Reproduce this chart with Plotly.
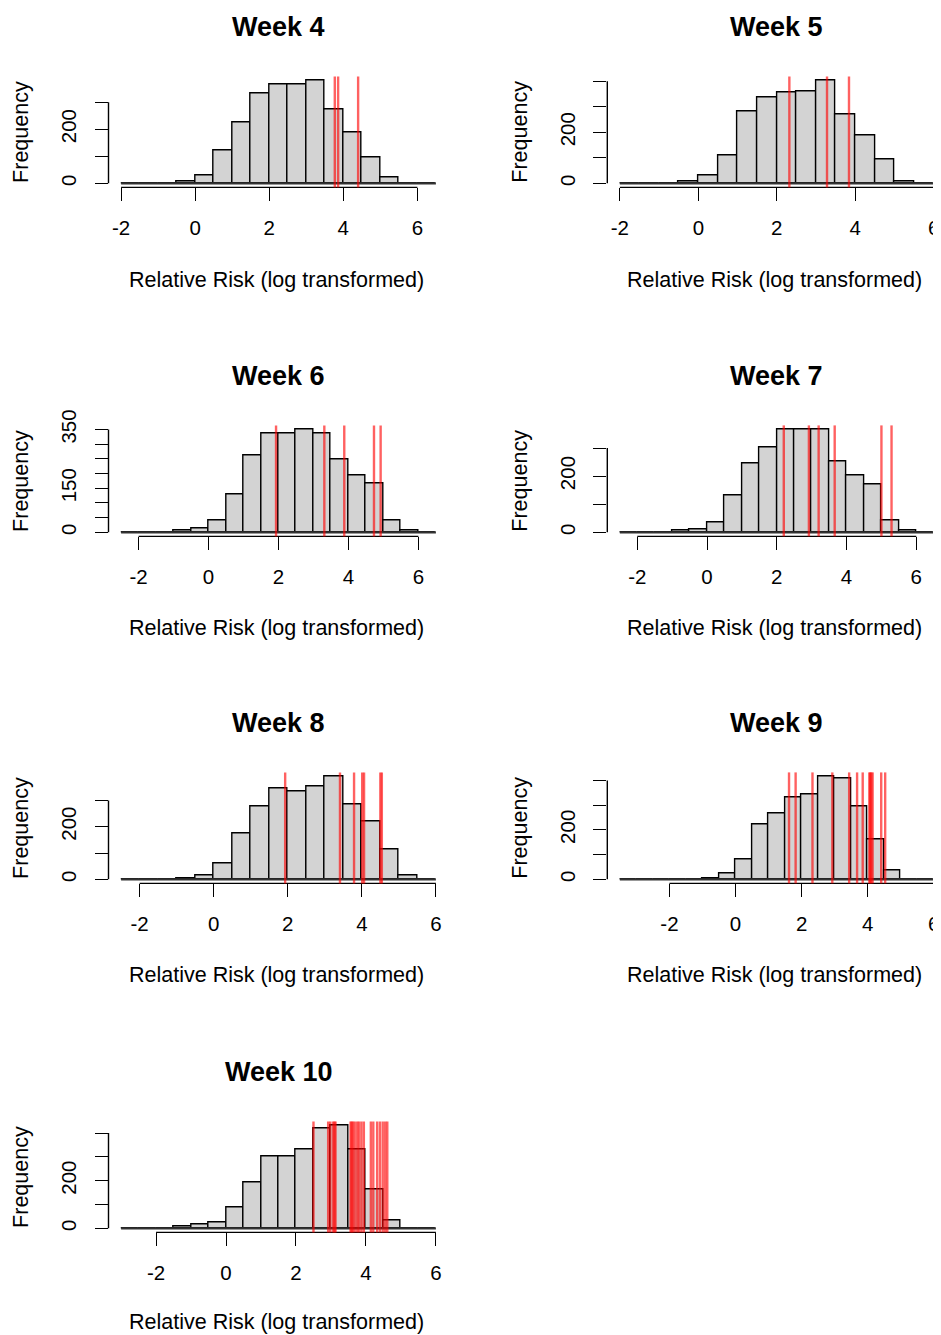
import plotly.graph_objects as go

# ---------------- data ----------------
weeks = ["Week 4", "Week 5", "Week 6", "Week 7", "Week 8", "Week 9", "Week 10"]
bin_width = 0.5
break_start = [-2.0, -2.0, -2.5, -2.5, -2.5, -3.5, -3.0]

counts_w4 = [1, 0, 1, 6, 30, 120, 226, 331, 367, 367, 380, 275, 188, 96, 22, 0, 1]
counts_w5 = [1, 0, 0, 6, 31, 109, 283, 338, 355, 361, 403, 269, 188, 95, 6, 1]
counts_w6 = [1, 0, 0, 5, 14, 41, 129, 262, 336, 336, 350, 336, 249, 193, 166, 41, 6, 1]
counts_w7 = [1, 0, 0, 5, 12, 35, 130, 244, 301, 366, 366, 366, 251, 201, 172, 42, 5, 1]
counts_w8 = [1, 0, 0, 5, 13, 61, 174, 277, 347, 334, 353, 391, 285, 222, 113, 14, 1]
counts_w9 = [1, 0, 0, 0, 0, 5, 24, 81, 221, 268, 333, 342, 416, 407, 297, 162, 34, 0, 1]
counts_w10 = [1, 0, 0, 7, 17, 25, 86, 195, 303, 303, 332, 418, 432, 331, 163, 35, 0, 1]

red_w4 = [3.77, 3.86, 4.40]
red_w5 = [2.32, 3.28, 3.84]
red_w6 = [1.93, 3.31, 3.88, 4.73, 4.92]
red_w7 = [2.20, 2.92, 3.20, 3.66, 5.00, 5.29]
red_w8 = [1.93, 3.41, 3.79, 4.01, 4.06, 4.50, 4.54]
red_w9 = [1.62, 1.82, 2.33, 2.93, 3.44, 3.68, 3.85, 4.05, 4.08, 4.11, 4.15, 4.41, 4.53]
red_w10 = [2.50, 2.92, 2.98, 3.06, 3.10, 3.13, 3.56, 3.59, 3.63, 3.68, 3.75, 3.80,
           3.87, 3.94, 4.14, 4.21, 4.32, 4.40, 4.48, 4.55, 4.61]

x_ticks = [-2, 0, 2, 4, 6]
x_tick_labels = ["-2", "0", "2", "4", "6"]

y_ticks_w4 = [0, 100, 200, 300]
y_labels_w4 = ["0", "", "200", ""]
y_ticks_w5 = [0, 100, 200, 300, 400]
y_labels_w5 = ["0", "", "200", "", ""]
y_ticks_w6 = [0, 50, 100, 150, 200, 250, 300, 350]
y_labels_w6 = ["0", "", "", "150", "", "", "", "350"]
y_ticks_w7 = [0, 100, 200, 300]
y_labels_w7 = ["0", "", "200", ""]
y_ticks_w8 = [0, 100, 200, 300]
y_labels_w8 = ["0", "", "200", ""]
y_ticks_w9 = [0, 100, 200, 300, 400]
y_labels_w9 = ["0", "", "200", "", ""]
y_ticks_w10 = [0, 100, 200, 300, 400]
y_labels_w10 = ["0", "", "200", "", ""]

x_title = "Relative Risk (log transformed)"
y_title = "Frequency"

all_counts = [counts_w4, counts_w5, counts_w6, counts_w7, counts_w8, counts_w9, counts_w10]
all_red = [red_w4, red_w5, red_w6, red_w7, red_w8, red_w9, red_w10]
all_yt = [y_ticks_w4, y_ticks_w5, y_ticks_w6, y_ticks_w7, y_ticks_w8, y_ticks_w9, y_ticks_w10]
all_yl = [y_labels_w4, y_labels_w5, y_labels_w6, y_labels_w7, y_labels_w8, y_labels_w9, y_labels_w10]

# ---------------- layout geometry (pixels) ----------------
W, H = 941, 1335
OFF = 8.0  # page body margin offset
col_px = [(108.5 - OFF, 448.5 - OFF), (607.3 - OFF, 946.3 - OFF)]
row_bottom_px = [187.4 - OFF, 536.4 - OFF, 883.4 - OFF, 1232.4 - OFF]
xlabel_gap = [93.0, 92.0, 92.0, 89.5]
region_h = 111.0

FONT = "Liberation Sans, Arial, sans-serif"
fig = go.Figure()
layout = dict(
    template="none",
    width=W, height=H, autosize=False,
    margin=dict(l=0, r=0, t=0, b=0, pad=0, autoexpand=False),
    paper_bgcolor="white", plot_bgcolor="white",
    showlegend=False,
    font=dict(family=FONT, color="black", size=20),
)
shapes = []
annotations = []

for i, wk in enumerate(weeks):
    n = i + 1
    sfx = "" if n == 1 else str(n)
    r, c = i // 2, i % 2
    left, right = col_px[c]
    bottom = row_bottom_px[r]
    top = bottom - region_h
    counts = all_counts[i]
    lo = break_start[i]
    hi = lo + len(counts) * bin_width
    ext = 0.04 * (hi - lo)
    xr = [lo - ext, hi + ext]
    right_vis = right
    if right > W:
        xr[1] = xr[0] + (xr[1] - xr[0]) * (W - left) / (right - left)
        right_vis = W
    ymax = max(counts)
    yr = [-0.04 * ymax, 1.04 * ymax]

    centers = [lo + bin_width * (k + 0.5) for k in range(len(counts))]

    fig.add_trace(go.Scatter(
        x=[lo, hi], y=[0, 0], mode="lines",
        line=dict(color="#333333", width=2.2),
        xaxis="x" + sfx, yaxis="y" + sfx, hoverinfo="skip"))
    fig.add_trace(go.Bar(
        x=centers, y=counts, width=bin_width,
        marker=dict(color="#D3D3D3", line=dict(color="black", width=1.4)),
        xaxis="x" + sfx, yaxis="y" + sfx))

    layout["xaxis" + sfx] = dict(
        domain=[left / W, right_vis / W], range=xr, anchor="y" + sfx,
        automargin=False,
        showgrid=False, zeroline=False, showline=False,
        tickmode="array", tickvals=x_ticks, ticktext=x_tick_labels,
        ticks="outside", ticklen=13, tickwidth=1.4, tickcolor="black",
        tickfont=dict(size=20.5, family=FONT, color="black"),
        ticklabelstandoff=9,
    )
    layout["yaxis" + sfx] = dict(
        domain=[1 - bottom / H, 1 - top / H], range=yr, anchor="x" + sfx,
        automargin=False,
        showgrid=False, zeroline=False, showline=False,
        tickmode="array", tickvals=all_yt[i], ticktext=all_yl[i],
        ticks="outside", ticklen=13, tickwidth=1.4, tickcolor="black",
        tickangle=-90,
        tickfont=dict(size=20.5, family=FONT, color="black"),
        ticklabelstandoff=10,
    )

    # R-style axis lines spanning first..last tick
    shapes.append(dict(type="line", xref="x" + sfx, yref="y" + sfx + " domain",
                       x0=x_ticks[0], x1=x_ticks[-1], y0=0, y1=0,
                       line=dict(color="black", width=1.4)))
    shapes.append(dict(type="line", xref="x" + sfx + " domain", yref="y" + sfx,
                       x0=0, x1=0, y0=all_yt[i][0], y1=all_yt[i][-1],
                       line=dict(color="black", width=1.4)))
    # red vertical lines
    for v in all_red[i]:
        shapes.append(dict(type="line", xref="x" + sfx, yref="y" + sfx + " domain",
                           x0=v, x1=v, y0=0, y1=1, layer="above",
                           line=dict(color="rgba(255,0,0,0.62)", width=2.4)))

    cx = (left + right) / 2.0
    cy = (top + bottom) / 2.0
    annotations.append(dict(text="<b>" + wk + "</b>", xref="paper", yref="paper",
                            x=cx / W, y=1 - (top - 49) / H, showarrow=False,
                            xanchor="center", yanchor="middle",
                            font=dict(size=27, family=FONT, color="black")))
    annotations.append(dict(text=x_title, xref="paper", yref="paper",
                            x=(cx - 2) / W, y=1 - (bottom + xlabel_gap[r]) / H, showarrow=False,
                            xanchor="center", yanchor="middle",
                            font=dict(size=21.5, family=FONT, color="black")))
    annotations.append(dict(text=y_title, xref="paper", yref="paper",
                            x=(left - 87.5) / W, y=1 - cy / H, showarrow=False,
                            xanchor="center", yanchor="middle", textangle=-90,
                            font=dict(size=21.5, family=FONT, color="black")))

layout["shapes"] = shapes
layout["annotations"] = annotations
layout["bargap"] = 0
fig.update_layout(**layout)

fig.write_html("out.html")
